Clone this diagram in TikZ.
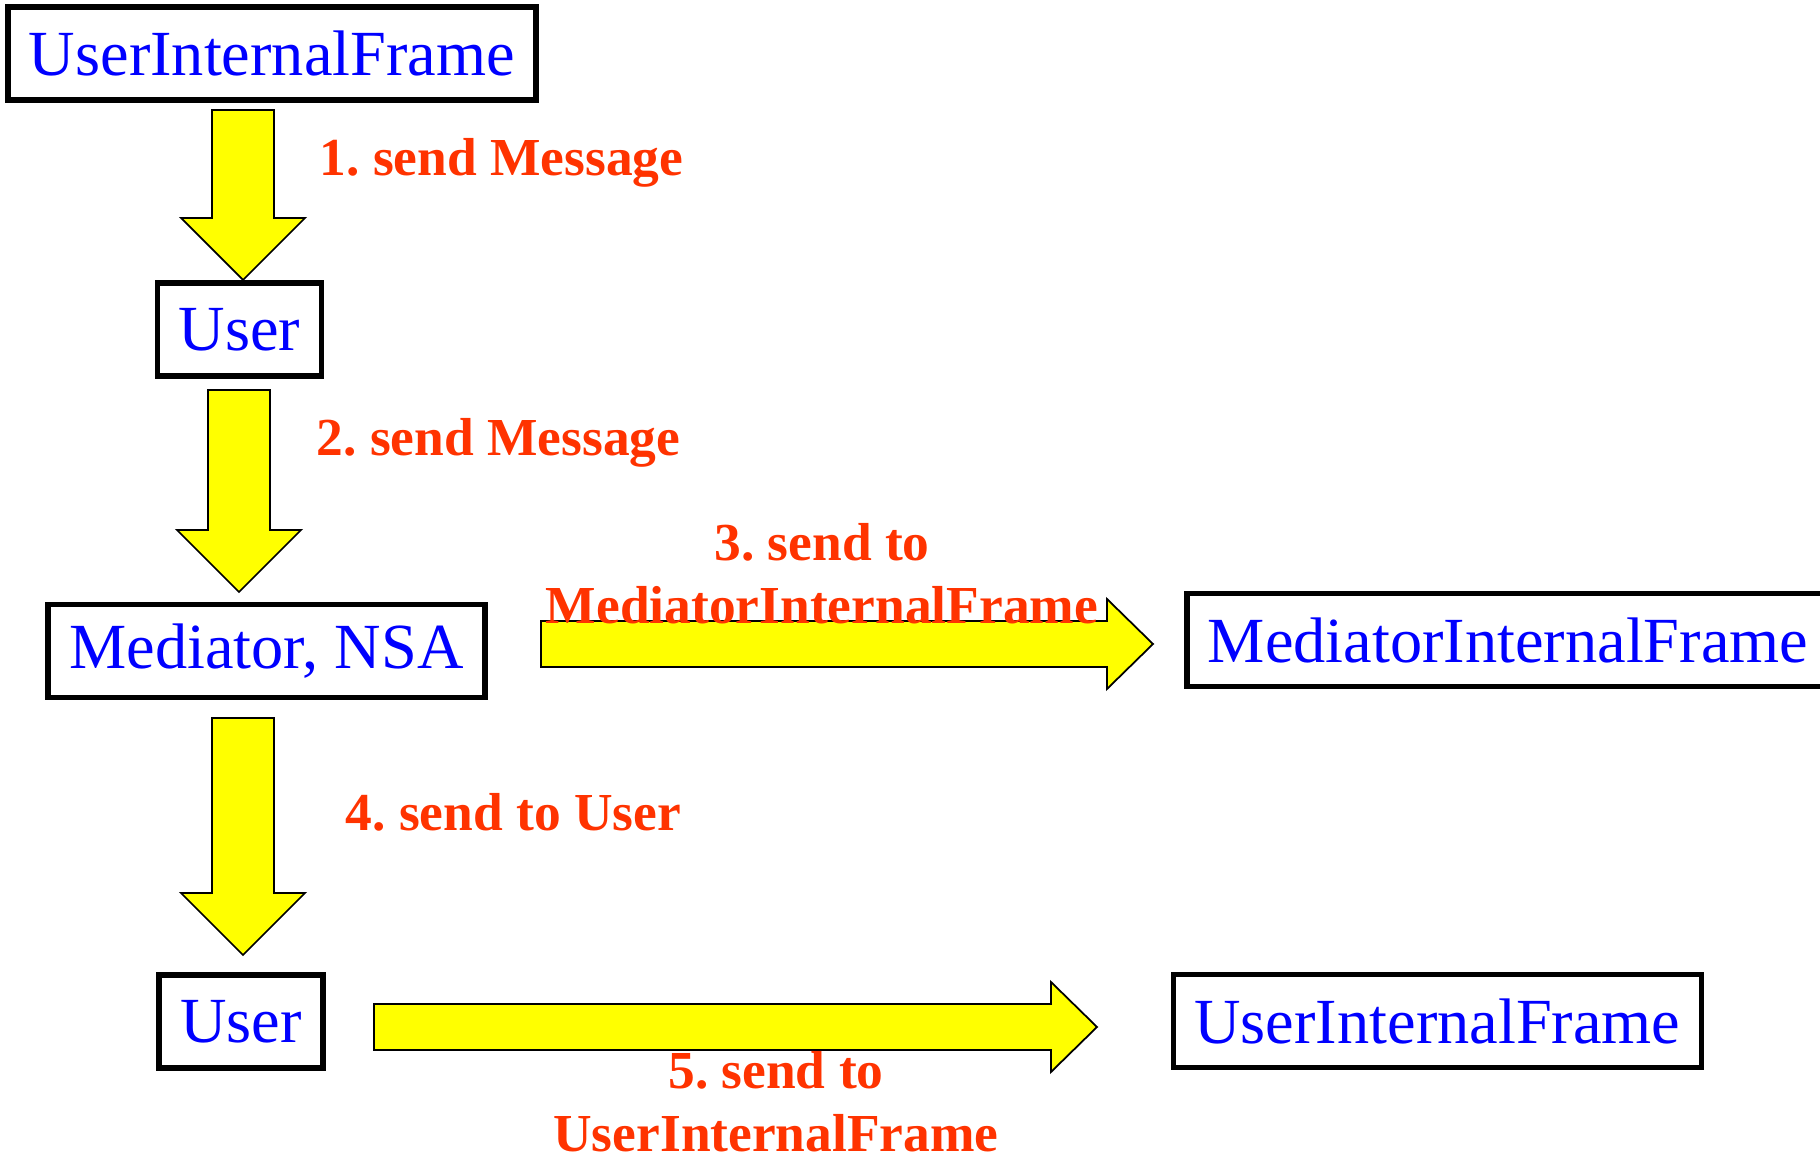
\documentclass[tikz,border=0pt]{standalone}
\usepackage{fontspec}
\setmainfont{Liberation Serif}
\usepackage{tikz}
\usetikzlibrary{calc}
\definecolor{lblred}{HTML}{FF3300}
\definecolor{boxblue}{HTML}{0000FF}
\definecolor{arryellow}{HTML}{FFFF00}

\begin{document}
\begin{tikzpicture}[x=0.01cm,y=-0.01cm,
  box/.style={draw,line width=1.6pt,text=boxblue,font=\fontsize{18.3}{22}\selectfont,
    inner xsep=6pt,inner ysep=0pt,minimum height=0.93cm},
  lbl/.style={text=lblred,font=\fontsize{15.2}{18}\selectfont\bfseries\frenchspacing,inner sep=0pt,align=center},
  blk/.style={draw,fill=arryellow,line width=0.5pt},
  fatdown/.style={blk,to path={($(\tikztostart)+(-31,0)$) -- ($(\tikztostart)+(31,0)$)
    -- ($(\tikztotarget)+(31,-62)$) -- ($(\tikztotarget)+(62,-62)$) -- (\tikztotarget)
    -- ($(\tikztotarget)+(-62,-62)$) -- ($(\tikztotarget)+(-31,-62)$) -- cycle}},
  fatright/.style={blk,to path={($(\tikztostart)+(0,-23)$) -- ($(\tikztotarget)+(-46,-23)$)
    -- ($(\tikztotarget)+(-46,-45)$) -- (\tikztotarget) -- ($(\tikztotarget)+(-46,45)$)
    -- ($(\tikztotarget)+(-46,23)$) -- ($(\tikztostart)+(0,23)$) -- cycle}}]
\useasboundingbox (0,0) rectangle (1820,1158);
% boxes
\node[box] (uif1) at (272,53.5) {UserInternalFrame};
\node[box] (user1) at (239.5,329.5) {User};
\node[box] (med) at (266.5,651) {Mediator, NSA};
\node[box,anchor=west,text width=6.3cm,align=left] (mif) at (1184,640) {MediatorInternalFrame};
\node[box] (user2) at (241,1021.5) {User};
\node[box] (uif2) at (1437.5,1021) {UserInternalFrame};
% arrow ends
\coordinate (s1) at (243,110);  \coordinate (t1) at (243,280);
\coordinate (s2) at (239,390);  \coordinate (t2) at (239,592);
\coordinate (s3) at (541,644);  \coordinate (t3) at (1153,644);
\coordinate (s4) at (243,718);  \coordinate (t4) at (243,955);
\coordinate (s5) at (374,1027); \coordinate (t5) at (1097,1027);
\draw[fatdown] (s1) to (t1);
\draw[fatdown] (s2) to (t2);
\draw[fatright] (s3) to (t3);
\draw[fatdown] (s4) to (t4);
\draw[fatright] (s5) to (t5);
% labels
\node[lbl,anchor=base west] (m1) at (319,176) {1. send Message};
\node[lbl,anchor=base west] (m2) at (316,456) {2. send Message};
\node[lbl,anchor=base] (m3) at (822,624) {3. send to\\MediatorInternalFrame};
\node[lbl,anchor=base west] (m4) at (345,831) {4. send to User};
\node[lbl,anchor=base] (m5) at (776,1152) {5. send to\\UserInternalFrame};
\end{tikzpicture}
\end{document}
